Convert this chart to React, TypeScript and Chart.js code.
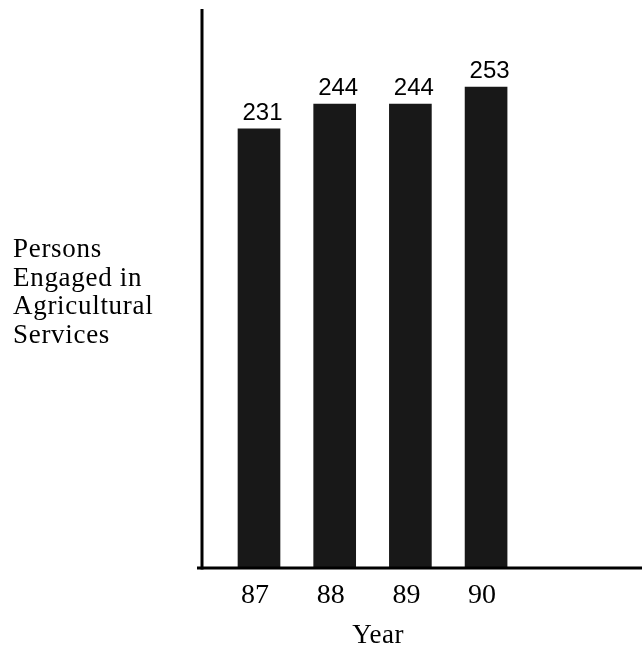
import { useEffect, useRef } from 'react';
import { Chart, registerables } from 'chart.js';

Chart.register(...registerables);

const years = [87, 88, 89, 90];
const persons = [231, 244, 244, 253];
const yearTickLabels = ['87', '88', '89', '90'];
const yLabelLines = ['Persons', 'Engaged in', 'Agricultural', 'Services'];
const xTitle = 'Year';

export default function App() {
  const ref = useRef<HTMLCanvasElement>(null);

  useEffect(() => {
    const canvas = ref.current!;

    const axesLines = {
      id: 'axesLines',
      afterDatasetsDraw(chart: any) {
        const ctx = chart.ctx;
        const { left, right, top, bottom } = chart.chartArea;
        ctx.save();
        ctx.fillStyle = '#000';
        ctx.fillRect(left - 1.5, top, 3, bottom - top + 1.5);
        ctx.fillRect(left - 5, bottom - 1.5, right - left + 5, 3);
        ctx.restore();
      },
    };

    const valueLabels = {
      id: 'valueLabels',
      afterDatasetsDraw(chart: any) {
        const ctx = chart.ctx;
        const meta = chart.getDatasetMeta(0);
        ctx.save();
        ctx.font = '24px "Liberation Sans", Arial, sans-serif';
        ctx.fillStyle = '#000';
        ctx.textAlign = 'center';
        ctx.textBaseline = 'alphabetic';
        meta.data.forEach((el: any, i: number) => {
          ctx.fillText(String(persons[i]), el.x + 3.5, el.y - 9);
        });
        ctx.restore();
      },
    };

    const textLabels = {
      id: 'textLabels',
      afterDraw(chart: any) {
        const ctx = chart.ctx;
        ctx.save();
        ctx.fillStyle = '#000';
        ctx.font = '27px "Liberation Serif", serif';
        (ctx as any).letterSpacing = '0.7px';
        ctx.textAlign = 'left';
        ctx.textBaseline = 'alphabetic';
        yLabelLines.forEach((line, i) => {
          ctx.fillText(line, 13, 257 + i * 28.5);
        });
        (ctx as any).letterSpacing = '0.5px';
        ctx.font = '27px "Liberation Serif", serif';
        ctx.textAlign = 'center';
        const xs = chart.scales.x;
        const cx = (xs.getPixelForValue(years[1]) + xs.getPixelForValue(years[2])) / 2 + 5.5;
        ctx.fillText(xTitle, cx, 643);
        ctx.restore();
      },
    };

    const chart = new Chart(canvas, {
      type: 'bar',
      data: {
        datasets: [
          {
            data: years.map((x, i) => ({ x, y: persons[i] })),
            backgroundColor: '#181818',
            borderWidth: 0,
            barThickness: 42,
          },
        ],
      },
      options: {
        animation: false,
        responsive: false,
        layout: { padding: { left: 202, top: 9, right: 0, bottom: 0 } },
        plugins: { legend: { display: false }, tooltip: { enabled: false } },
        scales: {
          x: {
            type: 'linear',
            offset: false,
            min: 86.247,
            max: 92.06,
            grid: { display: false, offset: false },
            border: { display: false },
            afterBuildTicks: (s: any) => {
              s.ticks = years.map((v) => ({ value: v }));
            },
            afterFit: (s: any) => {
              s.height = 79;
            },
            ticks: {
              callback: (v: any) => yearTickLabels[years.indexOf(Number(v))],
              font: { family: '"Liberation Serif", serif', size: 28 },
              color: '#000',
              padding: 3,
              labelOffset: -4,
              maxRotation: 0,
              autoSkip: false,
            },
          },
          y: { display: false, min: 0, max: 294 },
        },
      } as any,
      plugins: [axesLines, valueLabels, textLabels],
    });

    return () => chart.destroy();
  }, []);

  return (
    <div style={{ position: 'absolute', left: 0, top: 0, width: 642, height: 647, background: '#fff' }}>
      <canvas ref={ref} width={642} height={647} style={{ display: 'block' }} />
    </div>
  );
}
